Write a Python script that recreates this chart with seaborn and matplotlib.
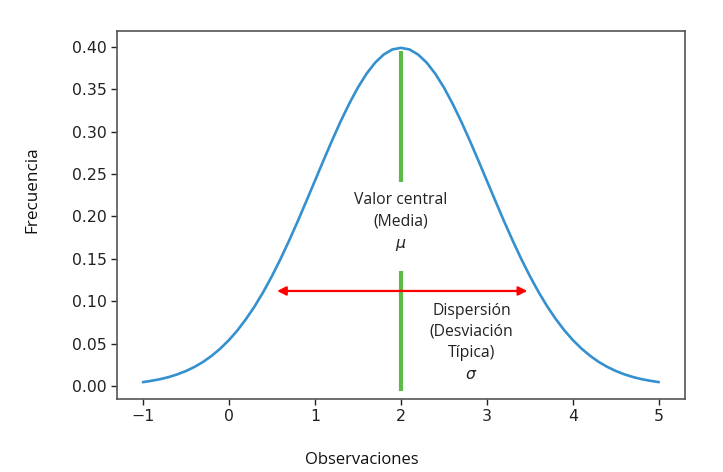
import matplotlib
matplotlib.use("Agg")
import matplotlib.pyplot as plt
import seaborn as sns
import pandas as pd

# Data
observaciones = [-1.0, -0.9, -0.8, -0.7, -0.6, -0.5, -0.4, -0.3, -0.2, -0.1,
                 0.0, 0.1, 0.2, 0.3, 0.4, 0.5, 0.6, 0.7, 0.8, 0.9,
                 1.0, 1.1, 1.2, 1.3, 1.4, 1.5, 1.6, 1.7, 1.8, 1.9,
                 2.0, 2.1, 2.2, 2.3, 2.4, 2.5, 2.6, 2.7, 2.8, 2.9,
                 3.0, 3.1, 3.2, 3.3, 3.4, 3.5, 3.6, 3.7, 3.8, 3.9,
                 4.0, 4.1, 4.2, 4.3, 4.4, 4.5, 4.6, 4.7, 4.8, 4.9, 5.0]
frecuencia = [0.0044, 0.0060, 0.0079, 0.0104, 0.0136, 0.0175, 0.0224, 0.0283, 0.0355, 0.0440,
              0.0540, 0.0656, 0.0790, 0.0940, 0.1109, 0.1295, 0.1497, 0.1714, 0.1942, 0.2179,
              0.2420, 0.2661, 0.2897, 0.3123, 0.3332, 0.3521, 0.3683, 0.3814, 0.3910, 0.3970,
              0.3989, 0.3970, 0.3910, 0.3814, 0.3683, 0.3521, 0.3332, 0.3123, 0.2897, 0.2661,
              0.2420, 0.2179, 0.1942, 0.1714, 0.1497, 0.1295, 0.1109, 0.0940, 0.0790, 0.0656,
              0.0540, 0.0440, 0.0355, 0.0283, 0.0224, 0.0175, 0.0136, 0.0104, 0.0079, 0.0060, 0.0044]
media = 2.0
dispersion_ini = 0.56
dispersion_fin = 3.47
dispersion_y = 0.112

x_ticks = [-1, 0, 1, 2, 3, 4, 5]
y_ticks = [0.00, 0.05, 0.10, 0.15, 0.20, 0.25, 0.30, 0.35, 0.40]

sns.set_style("ticks")
plt.rcParams['font.family'] = ['DejaVu Sans']

df = pd.DataFrame({"Observaciones": observaciones, "Frecuencia": frecuencia})

fig = plt.figure(figsize=(7.23, 4.72), dpi=100)
ax = fig.add_axes([0.162, 0.155, 0.785, 0.779])

sns.lineplot(data=df, x="Observaciones", y="Frecuencia", ax=ax,
             color="#3590d0", linewidth=1.9)

# Green mean line (broken around the text)
green = "#5bbb46"
ax.plot([media, media], [0.395, 0.241], color=green, lw=3, solid_capstyle="butt")
ax.plot([media, media], [0.135, -0.006], color=green, lw=3, solid_capstyle="butt")

# Red double arrow
ax.annotate("", xy=(dispersion_ini, dispersion_y), xytext=(dispersion_fin, dispersion_y),
            arrowprops=dict(arrowstyle="<|-|>", color="red", lw=1.6,
                            mutation_scale=13, shrinkA=0, shrinkB=0))

txt_font = ["Open Sans", "DejaVu Sans"]
ax.text(media, 0.193, "Valor central\n(Media)\n$\\mu$", ha="center", va="center",
        fontsize=11.3, family=txt_font, linespacing=1.5, color="#222222")
ax.text(2.82, 0.051, "Dispersión\n(Desviación\nTípica)\n$\\sigma$", ha="center", va="center",
        fontsize=11.3, family=txt_font, linespacing=1.45, color="#222222")

ax.set_xticks(x_ticks)
ax.set_yticks(y_ticks)
ax.set_yticklabels([f"{v:.2f}" for v in y_ticks])
ax.set_xticklabels([str(v).replace("-", "\u2212") for v in x_ticks])
ax.set_xlim(-1.3, 5.3)
ax.set_ylim(-0.0153, 0.4186)
ax.tick_params(labelsize=11.3, colors="#222222", length=4, width=1)
for s in ax.spines.values():
    s.set_color("#555555")
    s.set_linewidth(1.2)
    s.set_visible(True)

ax.set_xlabel("")
ax.set_ylabel("")
fig.text(0.50, 0.025, "Observaciones", ha="center", va="center", fontsize=12,
         family=txt_font, color="#111111")
fig.text(0.045, 0.598, "Frecuencia", ha="center", va="center", rotation=90,
         fontsize=12.3, family=txt_font, color="#111111")

fig.savefig("out.png", dpi=100)
